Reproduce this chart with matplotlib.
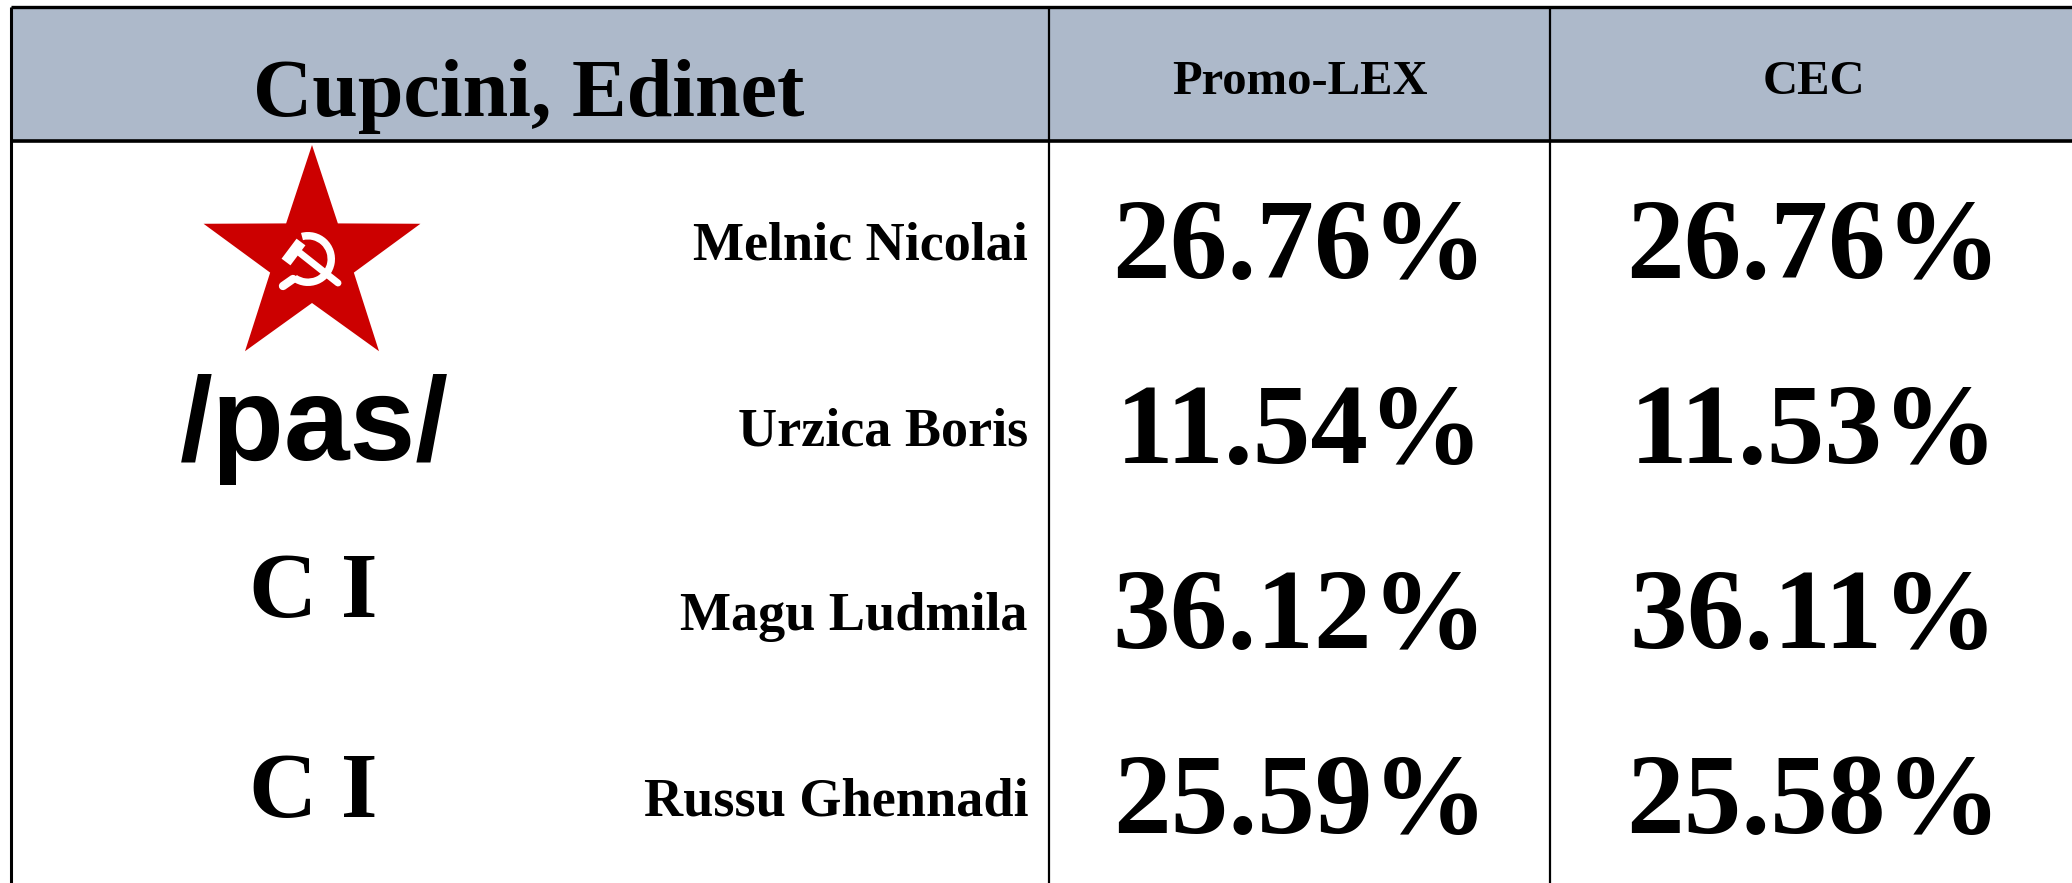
import numpy as np
import matplotlib
matplotlib.use("Agg")
import matplotlib.pyplot as plt
from matplotlib.patches import Rectangle, Polygon, Wedge

# ---------------- data ----------------
district = "Cupcini, Edinet"
sources = ["Promo-LEX", "CEC"]
candidates = ["Melnic Nicolai", "Urzica Boris", "Magu Ludmila", "Russu Ghennadi"]
parties = ["PCRM", "PAS", "CI", "CI"]
promolex_pct = [26.76, 11.54, 36.12, 25.59]
cec_pct = [26.76, 11.53, 36.11, 25.58]

# ---------------- layout (pixels) ----------------
W, H = 2072, 883
fig = plt.figure(figsize=(W / 100, H / 100), dpi=100)
ax = fig.add_axes([0, 0, 1, 1])
ax.set_xlim(0, W)
ax.set_ylim(H, 0)
ax.axis("off")

SERIF = ["Liberation Serif", "DejaVu Serif"]
SANS = ["Liberation Sans", "DejaVu Sans"]

left, top, head_bot = 11, 7, 141
col_x = [1049, 1550]
col_centers = [529, 1300, 1814]
row_c0, row_step = 241, 185
header_fill = "#ADB9CA"

# header band
ax.add_patch(Rectangle((left, top), W - left, head_bot - top, facecolor=header_fill,
                       edgecolor="none", zorder=1))
# borders
ax.plot([left, W], [top, top], color="black", lw=2.4, zorder=3, solid_capstyle="butt")
ax.plot([left, W], [head_bot, head_bot], color="black", lw=2.6, zorder=3, solid_capstyle="butt")
ax.plot([left, left], [top, H], color="black", lw=2.2, zorder=3, solid_capstyle="butt")
for cx in col_x:
    ax.plot([cx, cx], [top, H], color="black", lw=1.6, zorder=3, solid_capstyle="butt")

# header texts
ax.text(col_centers[0], 116, district, fontsize=59, fontweight="bold", family=SERIF,
        ha="center", va="baseline", zorder=4)
for cx, s in zip(col_centers[1:], sources):
    ax.text(cx, 94, s, fontsize=35, fontweight="bold", family=SERIF,
            ha="center", va="baseline", zorder=4)

# body rows
for i, (name, p1, p2) in enumerate(zip(candidates, promolex_pct, cec_pct)):
    yc = row_c0 + i * row_step
    ax.text(1028, yc + 19, name, fontsize=39, fontweight="bold", family=SERIF,
            ha="right", va="baseline", zorder=4)
    ax.text(col_centers[1], yc + 37, f"{p1:.2f}%", fontsize=83, fontweight="bold",
            family=SERIF, ha="center", va="baseline", zorder=4)
    ax.text(col_centers[2], yc + 37, f"{p2:.2f}%", fontsize=83, fontweight="bold",
            family=SERIF, ha="center", va="baseline", zorder=4)


# ---------------- party logos ----------------
def draw_star(cx, cy, R, r):
    ang = np.deg2rad(-90 + np.arange(10) * 36)
    rad = np.where(np.arange(10) % 2 == 0, R, r)
    pts = np.column_stack([cx + rad * np.cos(ang), cy + rad * np.sin(ang)])
    ax.add_patch(Polygon(pts, closed=True, facecolor="#CC0000", edgecolor="none", zorder=4))
    # sickle
    ax.add_patch(Wedge((cx - 4, cy), 27, -105, 125, width=7.5, facecolor="white",
                       edgecolor="none", zorder=5))
    ax.plot([cx - 19, cx - 29], [cy + 20, cy + 27], color="white", lw=6,
            solid_capstyle="round", zorder=5)
    # hammer
    ax.plot([cx - 12, cx + 26], [cy - 6, cy + 24], color="white", lw=5,
            solid_capstyle="round", zorder=5)
    ax.plot([cx - 26, cx - 11], [cy + 3, cy - 17], color="white", lw=8,
            solid_capstyle="butt", zorder=5)


logo_cx = 312
logo_y = [259, 460, 617, 817]
for i, party in enumerate(parties):
    if party == "PCRM":
        draw_star(logo_cx, logo_y[i], 114, 44)
    elif party == "PAS":
        ax.text(314, logo_y[i], "/pas/", fontsize=85, fontweight="bold", family=SANS,
                ha="center", va="baseline", zorder=4)
    else:
        ax.text(313, logo_y[i], "C I", fontsize=68, fontweight="bold", family=SERIF,
                ha="center", va="baseline", zorder=4)

fig.savefig("out.png", dpi=100, facecolor="white")
